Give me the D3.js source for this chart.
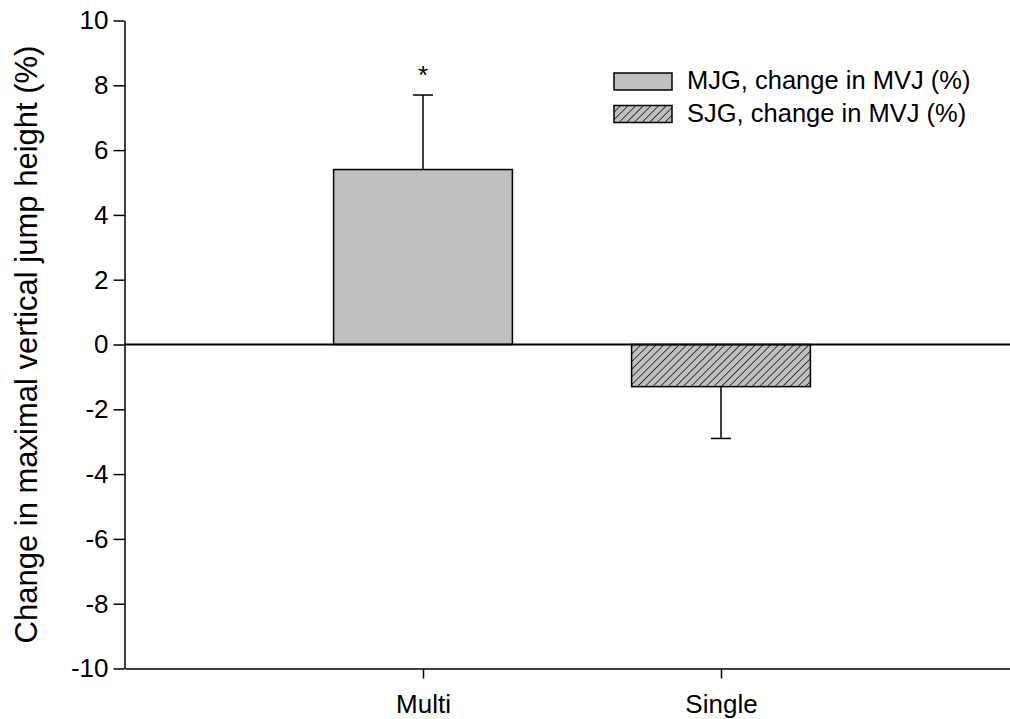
<!DOCTYPE html>
<html>
<head>
<meta charset="utf-8">
<script src="https://cdn.jsdelivr.net/npm/d3@7"></script>
<style>
  html, body { margin: 0; padding: 0; background: #fff; }
  svg { display: block; }
</style>
</head>
<body>
<div id="chart"></div>
<script>
// Data
const groups    = ['Multi', 'Single'];
const means     = [5.4, -1.3];
const errors    = [2.3, 1.6];
const signif    = [true, false];
const legendTxt = ['MJG, change in MVJ (%)', 'SJG, change in MVJ (%)'];
const yTicks    = [-10, -8, -6, -4, -2, 0, 2, 4, 6, 8, 10];
const yLabel    = 'Change in maximal vertical jump height (%)';

const W = 1010, H = 719;
const FONT = "Arial, 'Liberation Sans', Helvetica, sans-serif";
const GREY = '#c0c0c0';

const svg = d3.select('#chart').append('svg')
  .attr('width', W).attr('height', H);

// diagonal hatch for the SJG bar
const HS = 5.4;
const hatch = svg.append('defs').append('pattern')
  .attr('id', 'hatch')
  .attr('patternUnits', 'userSpaceOnUse')
  .attr('width', HS).attr('height', HS)
  .attr('patternTransform', 'rotate(45)');
hatch.append('rect').attr('width', HS).attr('height', HS).attr('fill', GREY);
hatch.append('line')
  .attr('x1', 0).attr('y1', 0).attr('x2', 0).attr('y2', HS)
  .attr('stroke', '#000').attr('stroke-width', 1.4);

const fills = [GREY, 'url(#hatch)'];

// Scales
const x = d3.scalePoint().domain(groups).range([125, 1019]).padding(1);
const y = d3.scaleLinear().domain([-10, 10]).range([668.5, 20.5]);
const barW = x.step() * 0.6;

// Bars + one-sided error bars
groups.forEach((g, i) => {
  const v = means[i];
  svg.append('rect')
    .attr('x', x(g) - barW / 2)
    .attr('y', y(Math.max(0, v)))
    .attr('width', barW)
    .attr('height', Math.abs(y(v) - y(0)))
    .attr('fill', fills[i])
    .attr('stroke', '#000')
    .attr('stroke-width', 1.5);

  const end = v >= 0 ? v + errors[i] : v - errors[i];
  svg.append('line')
    .attr('x1', x(g)).attr('x2', x(g))
    .attr('y1', y(v)).attr('y2', y(end))
    .attr('stroke', '#000').attr('stroke-width', 1.5);
  svg.append('line')
    .attr('x1', x(g) - 10).attr('x2', x(g) + 10)
    .attr('y1', y(end)).attr('y2', y(end))
    .attr('stroke', '#000').attr('stroke-width', 1.5);

  if (signif[i]) {
    svg.append('text')
      .attr('x', x(g)).attr('y', y(end) - 11)
      .attr('text-anchor', 'middle')
      .style('font-family', FONT).style('font-size', '26px')
      .text('*');
  }
});

// Zero line
svg.append('line')
  .attr('x1', 125).attr('x2', 1019)
  .attr('y1', y(0)).attr('y2', y(0))
  .attr('stroke', '#000').attr('stroke-width', 2.2);

// Axes
const yAxis = svg.append('g')
  .attr('transform', 'translate(124.5,0)')
  .call(d3.axisLeft(y).tickValues(yTicks).tickSize(11).tickSizeOuter(0).tickPadding(5)
    .tickFormat(d => String(d)));
const xAxis = svg.append('g')
  .attr('transform', `translate(0,${y(-10)})`)
  .call(d3.axisBottom(x).tickSize(10).tickSizeOuter(0).tickPadding(16));

[yAxis, xAxis].forEach(a => {
  a.selectAll('text').style('font-family', FONT).style('font-size', '26px').style('fill', '#000');
  a.selectAll('line').attr('stroke', '#000').attr('stroke-width', 1.5);
  a.select('.domain').attr('stroke', '#000').attr('stroke-width', 1.5);
});

// Y label
svg.append('text')
  .attr('transform', `translate(37,${(y(10) + y(-10)) / 2}) rotate(-90)`)
  .attr('text-anchor', 'middle')
  .style('font-family', FONT).style('font-size', '31px')
  .text(yLabel);

// Legend
legendTxt.forEach((t, i) => {
  const ly = 73 + i * 32.5;
  svg.append('rect')
    .attr('x', 614).attr('y', ly)
    .attr('width', 58).attr('height', 17)
    .attr('fill', fills[i]).attr('stroke', '#000').attr('stroke-width', 1.5);
  svg.append('text')
    .attr('x', 687).attr('y', ly + 16)
    .style('font-family', FONT).style('font-size', '25.5px')
    .text(t);
});
</script>
</body>
</html>
